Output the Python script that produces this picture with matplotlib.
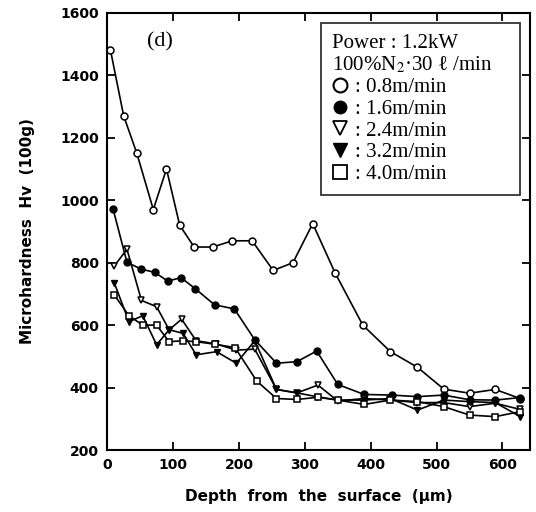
import matplotlib.pyplot as plt
from matplotlib.lines import Line2D

plt.rcParams['mathtext.fontset'] = 'stix'

# depth (um) / microhardness Hv for each traverse speed
x08 = [5, 25, 45, 70, 90, 110, 132, 160, 190, 220, 252, 282, 312, 346, 388, 430, 471, 511, 550, 589, 627]
hv08 = [1480, 1270, 1150, 970, 1100, 920, 850, 850, 870, 870, 775, 800, 925, 767, 600, 515, 465, 395, 382, 394, 365]

x16 = [9, 30, 52, 72, 92, 112, 134, 163, 193, 224, 257, 288, 318, 350, 390, 432, 471, 511, 550, 589, 627]
hv16 = [971, 801, 779, 769, 741, 752, 716, 665, 652, 553, 478, 483, 517, 410, 378, 376, 371, 376, 361, 360, 368]

x24 = [11, 30, 52, 75, 94, 113, 135, 165, 196, 224, 257, 288, 320, 350, 390, 430, 471, 511, 550, 589, 627]
hv24 = [790, 843, 679, 659, 585, 619, 550, 540, 520, 523, 394, 383, 408, 357, 365, 360, 352, 352, 339, 350, 330]

x32 = [11, 33, 54, 75, 94, 115, 135, 166, 196, 224, 257, 288, 318, 350, 390, 430, 471, 511, 550, 589, 627]
hv32 = [734, 611, 630, 537, 585, 574, 505, 515, 478, 550, 394, 383, 371, 360, 360, 365, 328, 360, 355, 352, 307]

x40 = [11, 33, 54, 75, 94, 115, 135, 163, 194, 227, 257, 288, 320, 350, 390, 430, 471, 511, 550, 589, 627]
hv40 = [696, 630, 600, 600, 547, 550, 547, 539, 528, 421, 365, 362, 369, 360, 346, 360, 355, 339, 312, 307, 323]

speeds = ['0.8m/min', '1.6m/min', '2.4m/min', '3.2m/min', '4.0m/min']

fig = plt.figure(figsize=(5.36, 5.12), dpi=100)
ax = fig.add_axes([0.2, 0.121, 0.789, 0.854])

ms = 5
ax.plot(x08, hv08, 'k-', lw=1.2, marker='o', ms=ms, mfc='white', mec='k', mew=1.1)
ax.plot(x16, hv16, 'k-', lw=1.2, marker='o', ms=ms, mfc='k', mec='k')
ax.plot(x24, hv24, 'k-', lw=1.2, marker='v', ms=ms, mfc='white', mec='k', mew=1.1)
ax.plot(x32, hv32, 'k-', lw=1.2, marker='v', ms=ms, mfc='k', mec='k')
ax.plot(x40, hv40, 'k-', lw=1.2, marker='s', ms=ms - 0.5, mfc='white', mec='k', mew=1.1)

ax.set_xlim(0, 642)
ax.set_ylim(200, 1600)
ax.set_xticks(range(0, 700, 100))
ax.set_yticks(range(200, 1800, 200))
ax.tick_params(direction='in', top=True, right=True, length=6, width=1.3,
               labelsize=10, pad=6)
for lab in ax.get_xticklabels() + ax.get_yticklabels():
    lab.set_fontweight('bold')
for s in ax.spines.values():
    s.set_linewidth(1.5)

ax.set_xlabel('Depth  from  the  surface  (μm)', fontsize=11, fontweight='bold', labelpad=12)
ax.set_ylabel('Microhardness  Hv  (100g)', fontsize=11, fontweight='bold', labelpad=18)

ax.text(0.095, 0.955, '(d)', transform=ax.transAxes, fontsize=16,
        family='Liberation Serif', va='top')

handles = [
    Line2D([], [], ls='none', marker='o', ms=10, mfc='white', mec='k', mew=1.5),
    Line2D([], [], ls='none', marker='o', ms=9, mfc='k', mec='k'),
    Line2D([], [], ls='none', marker='v', ms=10, mfc='white', mec='k', mew=1.3),
    Line2D([], [], ls='none', marker='v', ms=10, mfc='k', mec='k'),
    Line2D([], [], ls='none', marker='s', ms=10, mfc='white', mec='k', mew=1.3),
]
leg = ax.legend(handles, [': ' + s for s in speeds],
                title='Power : 1.2kW\n100%N$_2$·30 ℓ /min    ',
                loc='upper right', bbox_to_anchor=(0.976, 0.977), borderaxespad=0,
                prop={'family': 'Liberation Serif', 'size': 15},
                handlelength=0.8, handletextpad=0.3, labelspacing=0.1,
                borderpad=0.55, frameon=True, fancybox=False, alignment='left')
leg.get_title().set_fontfamily('Liberation Serif')
leg.get_title().set_fontsize(15)
leg.get_title().set_linespacing(1.1)
leg.get_frame().set_edgecolor('k')
leg.get_frame().set_linewidth(1.3)

fig.savefig('out.png', dpi=100)
